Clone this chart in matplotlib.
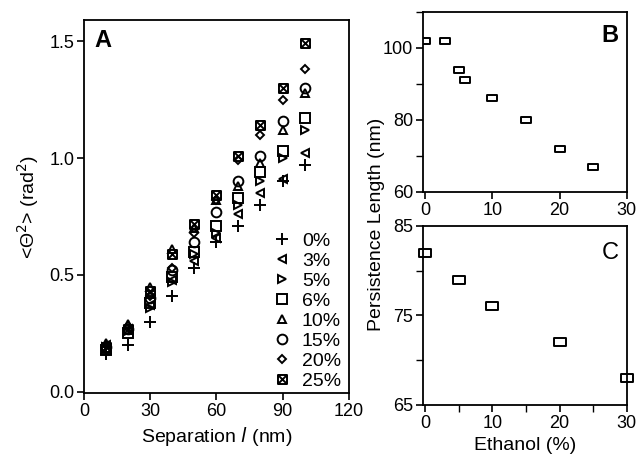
import matplotlib
matplotlib.use("Agg")
import matplotlib.pyplot as plt
from matplotlib.path import Path
from matplotlib.ticker import MultipleLocator
import numpy as np

plt.rcParams['font.family'] = ['Liberation Sans', 'DejaVu Sans']

# Panel A data
separation = [10, 20, 30, 40, 50, 60, 70, 80, 90, 100]
labels_A = ['0%', '3%', '5%', '6%', '10%', '15%', '20%', '25%']
theta2_0 = [0.16, 0.20, 0.30, 0.41, 0.53, 0.64, 0.71, 0.80, 0.90, 0.97]
theta2_3 = [0.20, 0.27, 0.37, 0.48, 0.56, 0.66, 0.76, 0.85, 0.91, 1.02]
theta2_5 = [0.19, 0.26, 0.36, 0.47, 0.59, 0.68, 0.80, 0.90, 1.00, 1.12]
theta2_6 = [0.18, 0.25, 0.38, 0.49, 0.60, 0.71, 0.83, 0.94, 1.03, 1.17]
theta2_10 = [0.21, 0.29, 0.45, 0.61, 0.70, 0.82, 0.88, 0.98, 1.12, 1.28]
theta2_15 = [0.19, 0.27, 0.40, 0.52, 0.64, 0.77, 0.90, 1.01, 1.16, 1.30]
theta2_20 = [0.20, 0.28, 0.41, 0.53, 0.68, 0.82, 0.99, 1.10, 1.25, 1.38]
theta2_25 = [0.19, 0.27, 0.43, 0.59, 0.72, 0.84, 1.01, 1.14, 1.30, 1.49]

# Panel B data
ethanol_B = [0, 3, 5, 6, 10, 15, 20, 25]
persist_B = [102, 102, 94, 91, 86, 80, 72, 67]

# Panel C data
ethanol_C = [0, 5, 10, 20, 30]
persist_C = [82, 79, 76, 72, 68]

# custom markers
boxx = Path([(-1, -1), (1, -1), (1, 1), (-1, 1), (-1, -1), (-1, -1), (1, 1), (-1, 1), (1, -1)],
            [Path.MOVETO, Path.LINETO, Path.LINETO, Path.LINETO, Path.CLOSEPOLY,
             Path.MOVETO, Path.LINETO, Path.MOVETO, Path.LINETO])
rect = Path([(-1, -0.6), (1, -0.6), (1, 0.6), (-1, 0.6), (-1, -0.6)],
            [Path.MOVETO, Path.LINETO, Path.LINETO, Path.LINETO, Path.CLOSEPOLY])

fig = plt.figure(figsize=(6.41, 4.57), dpi=100)
axA = fig.add_axes([0.131, 0.140, 0.413, 0.816])
axB = fig.add_axes([0.660, 0.580, 0.318, 0.394])
axC = fig.add_axes([0.660, 0.114, 0.318, 0.392])

series = [theta2_0, theta2_3, theta2_5, theta2_6, theta2_10, theta2_15, theta2_20, theta2_25]
markers = ['+', '<', '>', 's', '^', 'o', 'D', boxx]
sizes = [8, 6, 6, 7, 6, 7, 4.5, 6.5]

handles = []
for ys, m, ms, lab in zip(series, markers, sizes, labels_A):
    h, = axA.plot(separation, ys, linestyle='none', marker=m, markersize=ms,
                  markerfacecolor='none', markeredgecolor='black', markeredgewidth=1.4,
                  color='black', label=lab)
    handles.append(h)

axA.set_xlim(0, 120)
axA.set_ylim(-0.005, 1.59)
axA.set_xticks([0, 30, 60, 90, 120])
axA.set_yticks([0.0, 0.5, 1.0, 1.5])
axA.set_yticklabels(['0.0', '0.5', '1.0', '1.5'])
axA.set_xlabel('Separation $\\it{l}$ (nm)', fontsize=14)
axA.set_ylabel('<\u0398$^2$> (rad$^2$)', fontsize=14, labelpad=6)
axA.text(0.04, 0.975, 'A', transform=axA.transAxes, fontsize=17, fontweight='bold',
         va='top', ha='left')
leg = axA.legend(handles=handles, loc='lower right', frameon=False, fontsize=14,
                 handletextpad=0.4, labelspacing=0.12, borderaxespad=0.0,
                 handlelength=1.2, bbox_to_anchor=(1.0, -0.012))

# Panel B
axB.plot(ethanol_B, persist_B, linestyle='none', marker=rect, markersize=7,
         markerfacecolor='none', markeredgecolor='black', markeredgewidth=1.4)
axB.set_xlim(-0.3, 30)
axB.set_ylim(60, 110)
axB.set_xticks([0, 10, 20, 30])
axB.set_yticks([60, 80, 100])
axB.yaxis.set_minor_locator(MultipleLocator(10))
axB.text(0.96, 0.93, 'B', transform=axB.transAxes, fontsize=17, fontweight='bold',
         va='top', ha='right')

# Panel C
axC.plot(ethanol_C, persist_C, linestyle='none', marker=rect, markersize=9,
         markerfacecolor='none', markeredgecolor='black', markeredgewidth=1.4,
         clip_on=False)
axC.set_xlim(-0.3, 30)
axC.set_ylim(65, 85)
axC.set_xticks([0, 10, 20, 30])
axC.xaxis.set_minor_locator(MultipleLocator(5))
axC.set_yticks([65, 75, 85])
axC.yaxis.set_minor_locator(MultipleLocator(5))
axC.set_xlabel('Ethanol (%)', fontsize=14)
axC.text(0.96, 0.91, 'C', transform=axC.transAxes, fontsize=17,
         va='top', ha='right')

fig.text(0.588, 0.51, 'Persistence Length (nm)', rotation=90, fontsize=14,
         ha='center', va='center')

for ax in (axA, axB, axC):
    for sp in ax.spines.values():
        sp.set_linewidth(1.3)
    ax.tick_params(axis='both', which='major', direction='out', length=5, width=1.2,
                   labelsize=13, pad=2)
    ax.tick_params(axis='both', which='minor', direction='out', length=5, width=1.0)

fig.savefig('out.png', dpi=100)
